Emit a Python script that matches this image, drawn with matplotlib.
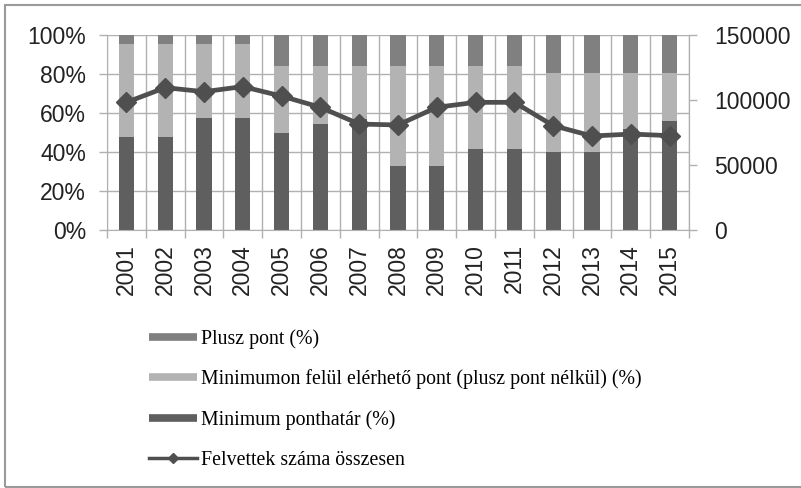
import matplotlib
matplotlib.use("Agg")
import matplotlib.pyplot as plt
from matplotlib.lines import Line2D
from matplotlib.patches import Rectangle
import numpy as np

years = [str(y) for y in range(2001, 2016)]
minimum = [47.5, 47.5, 57.3, 57.3, 50.0, 54.2, 57.0, 33.0, 33.0, 41.5, 41.5, 40.2, 40.2, 52.0, 56.0]
above_min = [47.9, 47.9, 38.1, 38.1, 34.0, 29.8, 27.0, 51.0, 51.0, 42.5, 42.5, 40.1, 40.1, 28.3, 24.3]
plus = [4.6, 4.6, 4.6, 4.6, 16.0, 16.0, 16.0, 16.0, 16.0, 16.0, 16.0, 19.7, 19.7, 19.7, 19.7]
admitted = [98200, 109500, 106400, 110300, 103000, 94400, 81500, 80800, 94400, 98200, 98200, 80300, 72300, 73800, 72600]

labels = ["Plusz pont (%)",
          "Minimumon felül elérhető pont (plusz pont nélkül) (%)",
          "Minimum ponthatár (%)",
          "Felvettek száma összesen"]

c_dark = "#5f5f5f"
c_light = "#b3b3b3"
c_plus = "#808080"
c_line = "#4f4f4f"
c_grid = "#b0b0b0"

fig = plt.figure(figsize=(8.01, 4.88), dpi=100)
ax = fig.add_axes([107/801, 1-230/488, (689-107)/801, (230-35)/488])

x = np.arange(len(years))
w = 0.39
ax.bar(x, minimum, w, color=c_dark, zorder=2)
ax.bar(x, above_min, w, bottom=minimum, color=c_light, zorder=2)
bottom3 = [a + b for a, b in zip(minimum, above_min)]
ax.bar(x, plus, w, bottom=bottom3, color=c_plus, zorder=2)

ax.set_xlim(-0.5, len(years) - 0.5)
ax.set_ylim(0, 100)
ax.set_yticks([0, 20, 40, 60, 80, 100])
ax.set_yticklabels([f"{v}%" for v in [0, 20, 40, 60, 80, 100]])
ax.set_xticks(x)
ax.set_xticklabels(years, rotation=90)
ax.set_xticks(np.arange(-0.5, len(years), 1), minor=True)
ax.tick_params(axis="x", which="major", length=0, pad=10)
ax.tick_params(axis="x", which="minor", length=6, color=c_grid, width=1)
ax.tick_params(axis="y", length=6, color=c_grid, width=1, pad=9)
ax.grid(axis="y", color=c_grid, lw=1, zorder=0)
ax.grid(axis="x", which="minor", color=c_grid, lw=1, zorder=0)
ax.spines["top"].set_visible(False)
for s in ["left", "bottom", "right"]:
    ax.spines[s].set_color(c_grid)

ax2 = ax.twinx()
ax2.plot(x, admitted, color=c_line, lw=3.4, marker="D", markersize=10, zorder=5)
ax2.set_ylim(0, 150000)
ax2.set_yticks([0, 50000, 100000, 150000])
ax2.tick_params(axis="y", length=6, color=c_grid, width=1, pad=12)
for s in ["top", "left", "bottom"]:
    ax2.spines[s].set_visible(False)
ax2.spines["right"].set_color(c_grid)

for a in (ax, ax2):
    for t in a.get_yticklabels() + a.get_xticklabels():
        t.set_fontfamily("Liberation Sans")
        t.set_fontsize(16.5)
        t.set_color("#222222")

handles = [Line2D([], [], color=c_plus, lw=5.5, solid_capstyle="butt"),
           Line2D([], [], color=c_light, lw=5.5, solid_capstyle="butt"),
           Line2D([], [], color=c_dark, lw=5.5, solid_capstyle="butt"),
           Line2D([], [], color=c_line, lw=2.5, marker="D", markersize=5)]
fig.legend(handles, labels, loc="upper left", bbox_to_anchor=(141/801, 1-321/488),
           frameon=False, prop={"family": "Liberation Serif", "size": 14.3},
           handlelength=2.4, handletextpad=0.2, labelspacing=1.05, borderaxespad=0)

# outer frame
fig.add_artist(Rectangle((5/801, 1/488), 1.2, 1-5/488-1/488, transform=fig.transFigure,
                         fill=False, edgecolor="#9a9a9a", lw=1.5))

fig.savefig("out.png", dpi=100)
